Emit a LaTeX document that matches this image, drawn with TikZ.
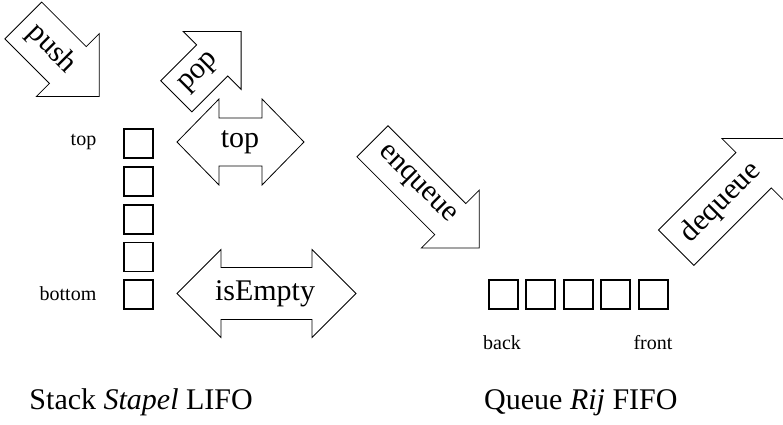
\documentclass[tikz,border=0pt]{standalone}
\usepackage{fontspec}
\setmainfont{Liberation Serif}
\begin{document}
\begin{tikzpicture}[x=1pt,y=-1pt,
  outl/.style={draw=black, line width=0.8pt, line join=miter, fill=white},
  cell/.style={draw=black, line width=1.8pt, minimum width=29pt, minimum height=29pt, inner sep=0pt, anchor=north west},
  big/.style={font=\fontsize{30}{36}\selectfont, inner sep=0pt},
  small/.style={font=\fontsize{20}{24}\selectfont, inner sep=0pt},
]
\useasboundingbox (0,0) rectangle (783,424);
\clip (0,0) rectangle (783,424);

% push
\begin{scope}[shift={(23.3,20.5)}, rotate=-45]
  \draw[outl] (0,-26) -- (63,-26) -- (63,-44.5) -- (107.5,0) -- (63,44.5) -- (63,26) -- (0,26) -- cycle;
  \node[big, rotate=-45] (push) at (40,0) {push};
\end{scope}
% pop
\begin{scope}[shift={(176.3,96.3)}, rotate=45]
  \draw[outl] (0,-22) -- (50.7,-22) -- (50.7,-41) -- (91.7,0) -- (50.7,41) -- (50.7,22) -- (0,22) -- cycle;
  \node[big, rotate=45] (pop) at (33,0) {pop};
\end{scope}
% enqueue
\begin{scope}[shift={(372.5,141.3)}, rotate=-45]
  \draw[outl] (0,-22) -- (110,-22) -- (110,-41) -- (151,0) -- (110,41) -- (110,22) -- (0,22) -- cycle;
  \node[big, rotate=-45] (enq) at (62,0) {enqueue};
\end{scope}
% dequeue
\begin{scope}[shift={(676.2,247.7)}, rotate=45]
  \draw[outl] (0,-25) -- (109.5,-25) -- (109.5,-45) -- (154.5,0) -- (109.5,45) -- (109.5,25) -- (0,25) -- cycle;
  \node[big, rotate=45] (deq) at (63.6,0) {dequeue};
\end{scope}

% top double arrow
\draw[outl] (177,142) -- (219,99) -- (219,118) -- (262,118) -- (262,99) -- (304,142)
  -- (262,185) -- (262,166) -- (219,166) -- (219,185) -- cycle;
\node[big] (topop) at (240,142) {top};
% isEmpty double arrow
\draw[outl] (177,293.5) -- (221,249.5) -- (221,267.5) -- (312,267.5) -- (312,249.5) -- (356,293.5)
  -- (312,337.5) -- (312,319.5) -- (221,319.5) -- (221,337.5) -- cycle;
\node[big] (isempty) at (265,293.5) {isEmpty};

% stack cells
\foreach \i in {0,...,4} {
  \node[cell] (s\i) at (123,{128.3+37.75*\i}) {};
}
\node[small, anchor=east] (toplbl) at (96.5,142) {top};
\node[small, anchor=east] (botlbl) at (96.5,293.5) {bottom};

% queue cells
\foreach \i in {0,...,4} {
  \node[cell] (q\i) at ({487.7+37.5*\i},279) {};
}
\node[small] (backlbl) at (502,343) {back};
\node[small] (frontlbl) at (653,343) {front};

% captions
\node[big, anchor=base east] (capstack) at (253,409) {Stack \textit{Stapel} LIFO};
\node[big, anchor=base west] (capqueue) at (484,409) {Queue \textit{Rij} FIFO};
\end{tikzpicture}
\end{document}
